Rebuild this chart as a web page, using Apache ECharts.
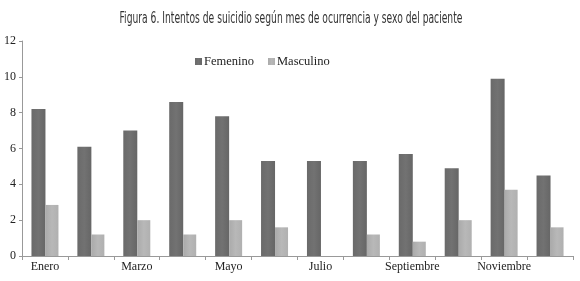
<!DOCTYPE html>
<html>
<head>
<meta charset="utf-8">
<script src="https://cdn.jsdelivr.net/npm/echarts@6/dist/echarts.min.js"></script>
<style>
  html,body{margin:0;padding:0;background:#fff;}
  #chart{width:580px;height:281px;}
</style>
</head>
<body>
<div id="chart"></div>
<script>
const months = ['Enero','Febrero','Marzo','Abril','Mayo','Junio','Julio','Agosto','Septiembre','Octubre','Noviembre','Diciembre'];
const femenino = [8.2, 6.1, 7.0, 8.6, 7.8, 5.3, 5.3, 5.3, 5.7, 4.9, 9.9, 4.5];
const masculino = [2.85, 1.2, 2.0, 1.2, 2.0, 1.6, 0, 1.2, 0.8, 2.0, 3.7, 1.6];
const yTicks = { min: 0, max: 12, interval: 2 };
const titleText = 'Figura 6. Intentos de suicidio según mes de ocurrencia y sexo del paciente';

const serif = '"Liberation Serif", "DejaVu Serif", serif';
const c = echarts.init(document.getElementById('chart'));
c.setOption({
  animation: false,
  // condensed title: squeeze horizontally like the original typeface
  graphic: [{
    type: 'text', x: 291, y: 19, scaleX: 0.68,
    style: {
      text: titleText, textAlign: 'center', textVerticalAlign: 'middle',
      font: '15px "DejaVu Sans Condensed", "DejaVu Sans", sans-serif', fill: '#333'
    }
  }],
  legend: {
    left: 190, top: 50,
    itemWidth: 7, itemHeight: 7, itemGap: 14,
    icon: 'rect',
    textStyle: { fontFamily: serif, fontSize: 12.5, color: '#222', padding: [0,0,0,-3] },
    data: ['Femenino', 'Masculino']
  },
  grid: { left: 22, right: 7, top: 41, bottom: 25 },
  xAxis: {
    type: 'category', data: months,
    axisLine: { lineStyle: { color: '#999' } },
    axisTick: { show: true, alignWithLabel: false, interval: 0, length: 4, lineStyle: { color: '#999' } },
    axisLabel: { interval: 1, color: '#222', fontFamily: serif, fontSize: 12, margin: 5 }
  },
  yAxis: {
    type: 'value', min: yTicks.min, max: yTicks.max, interval: yTicks.interval,
    axisLine: { show: true, lineStyle: { color: '#999' } },
    axisTick: { show: true, length: 3, lineStyle: { color: '#999' } },
    splitLine: { show: false },
    axisLabel: { color: '#222', fontFamily: serif, fontSize: 12, margin: 6 }
  },
  series: [
    { name: 'Femenino', type: 'bar', data: femenino, barWidth: 14, barGap: '0%',
      itemStyle: { color: new echarts.graphic.LinearGradient(0,0,1,0,[{offset:0,color:'#6a6a6a'},{offset:0.5,color:'#727272'},{offset:1,color:'#666'}]) } },
    { name: 'Masculino', type: 'bar', data: masculino, barWidth: 13,
      itemStyle: { color: new echarts.graphic.LinearGradient(0,0,1,0,[{offset:0,color:'#aaa'},{offset:0.5,color:'#b8b8b8'},{offset:1,color:'#b0b0b0'}]) } }
  ]
});
</script>
</body>
</html>
